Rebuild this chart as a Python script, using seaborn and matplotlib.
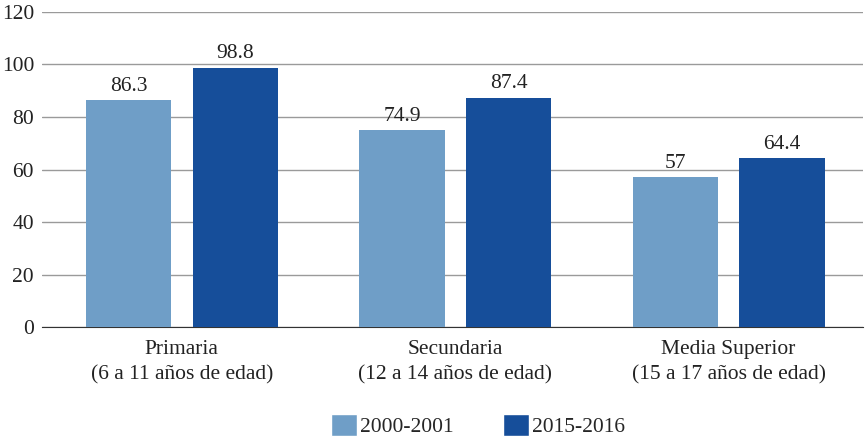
import pandas as pd
import numpy as np
import seaborn as sns
import matplotlib.pyplot as plt
from matplotlib.patches import Patch

categories = ['Primaria\n(6 a 11 años de edad)',
              'Secundaria\n(12 a 14 años de edad)',
              'Media Superior\n(15 a 17 años de edad)']
series = ['2000-2001', '2015-2016']
values_2000 = [86.3, 74.9, 57]
values_2015 = [98.8, 87.4, 64.4]
labels_2000 = ['86.3', '74.9', '57']
labels_2015 = ['98.8', '87.4', '64.4']
colors = ['#6f9ec7', '#164e9a']

df = pd.DataFrame({
    'nivel': categories * 2,
    'periodo': [series[0]] * 3 + [series[1]] * 3,
    'valor': values_2000 + values_2015,
})

sns.set_style('white')
plt.rcParams['font.family'] = ['Liberation Serif', 'DejaVu Serif']
fs = 15.5

fig, ax = plt.subplots(figsize=(8.66, 4.41), dpi=100)
fig.subplots_adjust(left=0.049, right=0.996, top=0.973, bottom=0.258)

sns.barplot(data=df, x='nivel', y='valor', hue='periodo', palette=colors,
            width=0.78, gap=0.2, saturation=1, linewidth=0, ax=ax,
            legend=False, zorder=3)

for cont, labs in zip(ax.containers, [labels_2000, labels_2015]):
    ax.bar_label(cont, labels=labs, padding=3, fontsize=fs, color='#222222')

ax.set_ylim(0, 120)
ax.set_xlim(-0.51, 2.49)
ax.set_yticks(range(0, 121, 20))
ax.yaxis.grid(True, color='#9a9a9a', linewidth=1)
ax.set_axisbelow(True)
for s in ['top', 'right', 'left']:
    ax.spines[s].set_visible(False)
ax.spines['bottom'].set_color('#333333')
ax.tick_params(axis='y', length=0, labelsize=fs, pad=6, labelcolor='#222222')
ax.tick_params(axis='x', length=0, labelsize=fs, pad=9, labelcolor='#222222')
for lab in ax.get_xticklabels():
    lab.set_linespacing(1.45)
ax.set_xlabel('')
ax.set_ylabel('')

handles = [Patch(facecolor=c, label=s) for c, s in zip(colors, series)]
fig.legend(handles=handles, loc='lower center', ncol=2, frameon=False,
           fontsize=fs, bbox_to_anchor=(0.552, -0.035), handlelength=1.2,
           handleheight=1.2, handletextpad=0.15, columnspacing=2.3)

plt.savefig('out.png', dpi=100)
